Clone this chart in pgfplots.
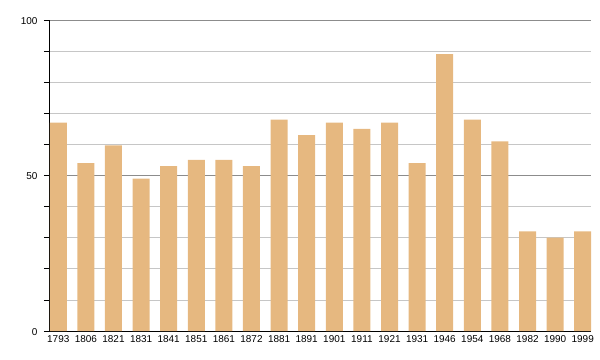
\documentclass[border=0pt]{standalone}
\usepackage{pgfplots}
\pgfplotsset{compat=1.18}
\usepackage{fontspec}
\setmainfont{Liberation Sans}
\definecolor{barc}{HTML}{E6B880}
\begin{document}
\begin{tikzpicture}
\useasboundingbox (-58.28bp,-29bp) rectangle (541.72bp,331bp);
\begin{axis}[
  at={(0,0)}, anchor=origin,
  scale only axis, width=541bp, height=311bp,
  ymin=0, ymax=100,
  xmin=-0.3, xmax=19.3,
  axis x line=bottom, axis y line=left,
  axis line style={-, black, line width=1bp},
  ytick={0,50,100},
  minor ytick={10,20,30,40,60,70,80,90},
  ymajorgrids, yminorgrids,
  major grid style={gray!90, line width=0.8bp},
  minor grid style={gray!45, line width=0.8bp},
  tick style={black, line width=0.8bp},
  major tick length=6bp, minor tick length=6bp,
  ytick pos=left,
  tick align=outside,
  xtick=data,
  xticklabels={1793,1806,1821,1831,1841,1851,1861,1872,1881,1891,1901,1911,1921,1931,1946,1954,1968,1982,1990,1999},
  x tick style={draw=none},
  tick label style={font=\fontsize{10}{12}\selectfont},
  /pgf/number format/assume math mode=true,
  xticklabel style={yshift=4.5bp},
  yticklabel style={xshift=-3bp, yshift=-1bp},
  ybar, bar width=17bp,
]
\addplot[fill=barc, draw=none] coordinates {
(0,67) (1,54) (2,59.7) (3,49) (4,53) (5,55) (6,55) (7,53) (8,68) (9,63)
(10,67) (11,65) (12,67) (13,54) (14,89) (15,68) (16,61) (17,32) (18,30) (19,32)
};
\end{axis}
\end{tikzpicture}
\end{document}
